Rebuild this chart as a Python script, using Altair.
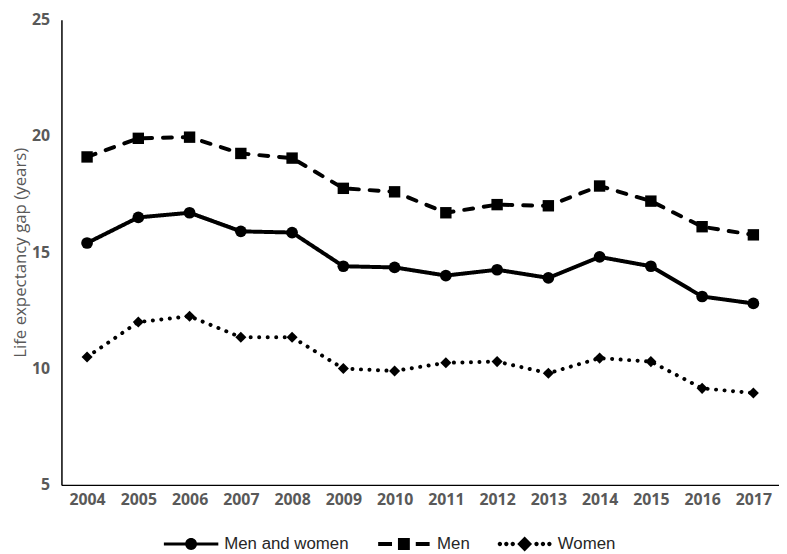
import altair as alt
import pandas as pd

years = [str(y) for y in range(2004, 2018)]
series_names = ["Men and women", "Men", "Women"]
both = [15.4, 16.5, 16.7, 15.9, 15.85, 14.4, 14.35, 14.0, 14.25, 13.9, 14.8, 14.4, 13.1, 12.8]
men = [19.1, 19.9, 19.95, 19.25, 19.05, 17.75, 17.6, 16.7, 17.05, 17.0, 17.85, 17.2, 16.1, 15.75]
women = [10.5, 12.0, 12.25, 11.35, 11.35, 10.0, 9.9, 10.25, 10.3, 9.8, 10.45, 10.3, 9.15, 8.95]

rows = []
for name, vals in zip(series_names, [both, men, women]):
    for y, v in zip(years, vals):
        rows.append({"Year": y, "Series": name, "Legend": name, "Gap": v})
df = pd.DataFrame(rows)

# legend symbol paths (drawn in px, scaled for symbolSize=100 -> factor 5)
F = 5.0
def rect(x0, x1, h):
    return f"M{x0/F},{-h/F}H{x1/F}V{h/F}H{x0/F}Z"
def circ(cx, r):
    return f"M{(cx-r)/F},0A{r/F},{r/F} 0 1,1 {(cx+r)/F},0A{r/F},{r/F} 0 1,1 {(cx-r)/F},0Z"
def square(s):
    return f"M{-s/F},{-s/F}H{s/F}V{s/F}H{-s/F}Z"
def diamond(s):
    return f"M0,{-s/F}L{s/F},0L0,{s/F}L{-s/F},0Z"

p_both = rect(-27.5, -5, 1.6) + rect(5, 27.5, 1.6) + circ(0, 6)
p_men = rect(-26, -12, 2) + rect(12, 26, 2) + square(6)
p_women = "".join(circ(x, 2.2) for x in [-25, -18.5, -12, 12, 18.5, 25]) + diamond(7.5)

x_enc = alt.X("Year:N", sort=years, scale=alt.Scale(type="point", padding=0.5),
              axis=alt.Axis(title=None, labelAngle=0, ticks=False, labelFontWeight="bold",
                            labelFontSize=16, labelColor="#595959", labelPadding=7,
                            domainColor="black", domainWidth=1.5, labelFont="Open Sans"))
y_enc = alt.Y("Gap:Q", scale=alt.Scale(domain=[5, 25], nice=False, zero=False),
              axis=alt.Axis(title="Life expectancy gap (years)", values=[5, 10, 15, 20, 25],
                            ticks=False, grid=False, labelFontWeight="bold", labelFontSize=16,
                            labelColor="#595959", labelPadding=12, domainColor="black",
                            domainWidth=1.5, titleFontWeight="normal", titleFontSize=17,
                            titleColor="#595959", titlePadding=2, labelFont="Open Sans",
                            titleFont="Open Sans"))

base = alt.Chart(df)

lines = base.mark_line(color="black", strokeWidth=4, strokeCap="round", strokeJoin="round").encode(
    x=x_enc, y=y_enc,
    detail="Series:N",
    strokeDash=alt.StrokeDash("Series:N", scale=alt.Scale(domain=series_names,
                                                         range=[[1, 0], [9, 11], [0.1, 8.5]]),
                              legend=None),
)

points = base.mark_point(filled=True, color="black", opacity=1).encode(
    x=x_enc, y=y_enc,
    shape=alt.Shape("Series:N", scale=alt.Scale(domain=series_names,
                                                range=["circle", "square", "diamond"]),
                    legend=None),
    size=alt.Size("Series:N", scale=alt.Scale(domain=series_names, range=[140, 125, 180]),
                  legend=None),
)

legend_layer = base.mark_point(filled=True, color="black", opacity=0).encode(
    x=x_enc, y=y_enc,
    shape=alt.Shape("Legend:N", scale=alt.Scale(domain=series_names,
                                                range=[p_both, p_men, p_women]),
                    legend=alt.Legend(title=None, orient="none", legendX=100, legendY=521,
                                      direction="horizontal", columns=3, symbolSize=100,
                                      symbolOffset=22.5, labelOffset=25, columnPadding=24,
                                      symbolFillColor="black", symbolStrokeWidth=0,
                                      symbolOpacity=1, labelFontSize=17,
                                      labelFont="Liberation Sans", labelColor="#262626",
                                      padding=0)),
)

chart = alt.layer(lines, points, legend_layer).resolve_scale(shape="independent").properties(
    width=725, height=470,
    autosize=alt.AutoSizeParams(type="none"),
    padding={"left": 54, "top": 9, "right": 0, "bottom": 67},
).configure_view(stroke=None)

chart.save("out.html", embed_options={"renderer": "svg", "actions": False})
